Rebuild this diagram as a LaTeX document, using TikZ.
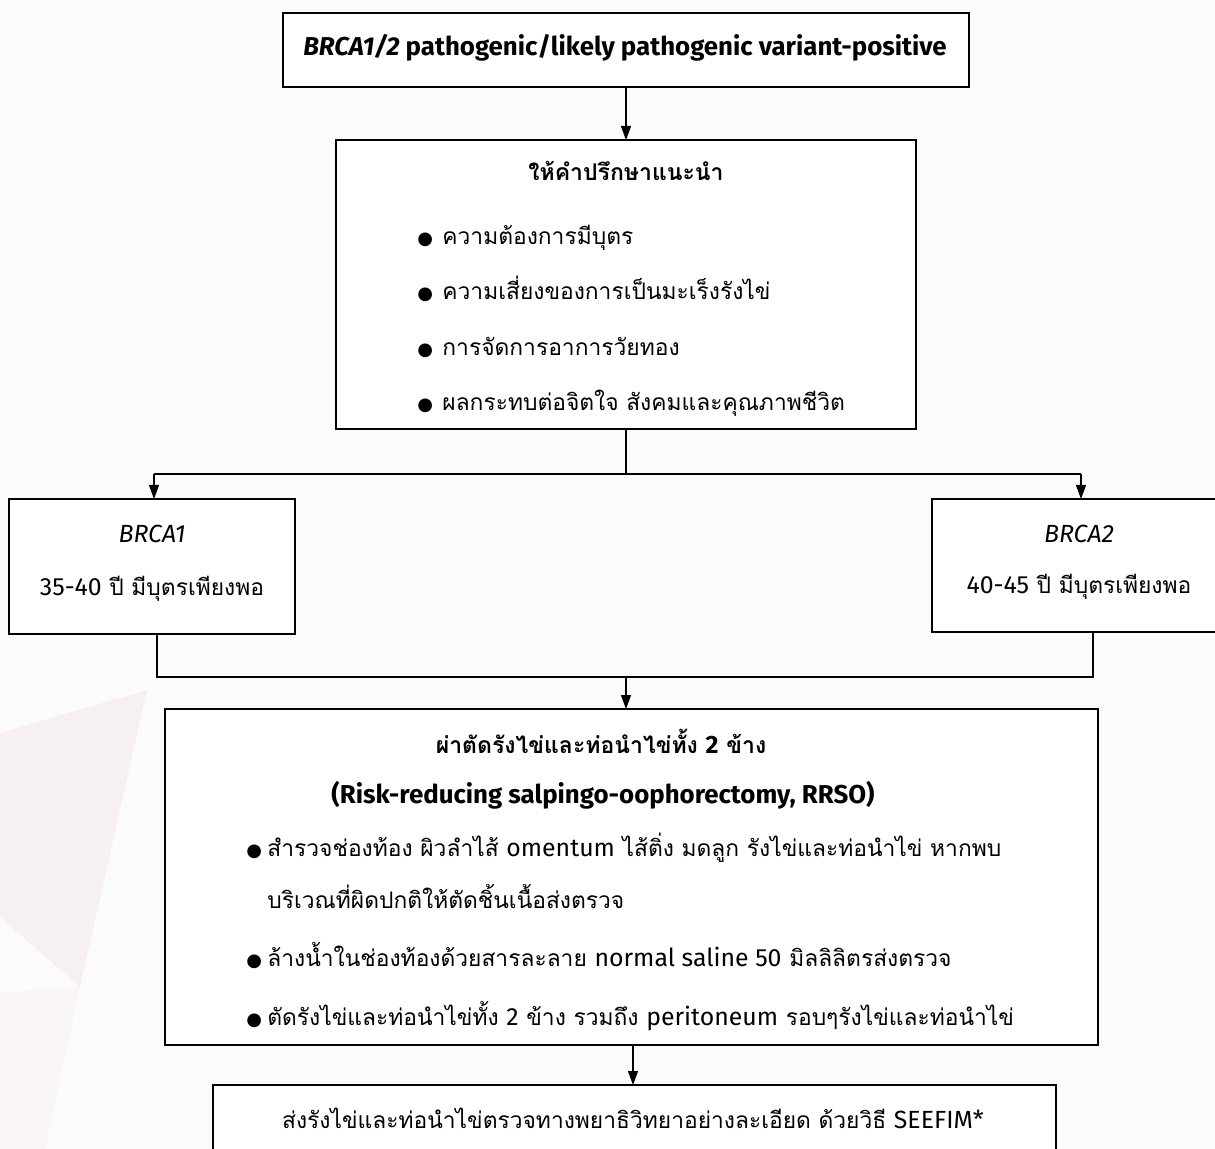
\documentclass[tikz,border=0pt]{standalone}
\usepackage{fontspec}
\setmainfont[Script=Thai]{Loma}
\newfontfamily\latinfont[Scale=1.09]{Fira Sans}
\newfontfamily\bulletfont{DejaVu Sans}
\usetikzlibrary{arrows.meta}

\definecolor{bgbase}{HTML}{FCFBFC}
\definecolor{bgtint}{HTML}{F6F0F4}
\definecolor{bgtintb}{HTML}{F9F5F8}

\tikzset{
  stepbox/.style={draw=black, line width=1pt, fill=white, inner sep=0pt, outer sep=0pt},
  txt/.style={inner sep=0pt, anchor=base, font=\fontsize{11.4}{13}\selectfont},
  ltxt/.style={txt, anchor=base west},
  head/.style={txt, font=\fontsize{11.5}{13}\selectfont\bfseries},
  lhead/.style={txt, font=\fontsize{11.85}{13}\selectfont\bfseries},
  link/.style={line width=0.6pt, draw=black},
  arr/.style={link, -{Triangle[width=5pt,length=7pt]}},
}
% Latin words and figures are set in Fira Sans, Thai in Loma
\newcommand\lt[1]{{\latinfont #1}}
\newcommand\bulA{\makebox[12.5pt][l]{\bulletfont\fontsize{9}{10}\selectfont ●}}
\newcommand\bulB{\makebox[10.5pt][l]{\bulletfont\fontsize{9}{10}\selectfont ●}}

\begin{document}
\begin{tikzpicture}[x=0.5pt,y=-0.5pt]
  % page and faint background facets
  \fill[bgbase] (0,0) rectangle (1215,1149);
  \fill[bgtint] (0,733) -- (147,690) -- (80,987) -- (0,917) -- cycle;
  \fill[bgtintb] (0,993) -- (80,987) -- (45,1149) -- (0,1149) -- cycle;
  \useasboundingbox (0,0) rectangle (1215,1149);

  % boxes
  \node[stepbox, minimum width=343pt, minimum height=37pt] (top) at (626,50) {};
  \node[stepbox, minimum width=290pt, minimum height=144.5pt] (couns) at (626,284.5) {};
  \node[stepbox, minimum width=143pt, minimum height=67.5pt] (brca1) at (152,566.5) {};
  \node[stepbox, minimum width=146pt, minimum height=66.5pt] (brca2) at (1078,565.5) {};
  \node[stepbox, minimum width=466.5pt, minimum height=168pt] (rrso) at (631.5,877) {};
  \node[stepbox, minimum width=421.5pt, minimum height=45pt] (path) at (634.5,1130) {};

  % texts
  \node[lhead] (ttop) at (625,56) {\lt{\textit{BRCA1/2} pathogenic/likely pathogenic variant-positive}};

  \node[head] (tcouns) at (626,181) {ให้คำปรึกษาแนะนำ};
  \node[ltxt] (c1) at (417,245) {\bulA ความต้องการมีบุตร};
  \node[ltxt] (c2) at (417,300) {\bulA ความเสี่ยงของการเป็นมะเร็งรังไข่};
  \node[ltxt] (c3) at (417,356) {\bulA การจัดการอาการวัยทอง};
  \node[ltxt] (c4) at (417,411) {\bulA ผลกระทบต่อจิตใจ สังคมและคุณภาพชีวิต};

  \node[txt] (b1a) at (152,543) {\lt{\textit{BRCA1}}};
  \node[txt] (b1b) at (152,596) {\lt{35-40} ปี มีบุตรเพียงพอ};
  \node[txt] (b2a) at (1079,543) {\lt{\textit{BRCA2}}};
  \node[txt] (b2b) at (1079,594) {\lt{40-45} ปี มีบุตรเพียงพอ};

  \node[head] (trrso) at (601,753) {ผ่าตัดรังไข่และท่อนำไข่ทั้ง \lt{2} ข้าง};
  \node[lhead] (trrsoen) at (603,803) {\lt{(Risk-reducing salpingo-oophorectomy, RRSO)}};
  \node[ltxt] (r1) at (246,856) {\bulB สำรวจช่องท้อง ผิวลำไส้ \lt{omentum} ไส้ติ่ง มดลูก รังไข่และท่อนำไข่ หากพบ};
  \node[ltxt] (r1b) at (267,908) {บริเวณที่ผิดปกติให้ตัดชิ้นเนื้อส่งตรวจ};
  \node[ltxt] (r2) at (246,966) {\bulB ล้างน้ำในช่องท้องด้วยสารละลาย \lt{normal saline 50} มิลลิลิตรส่งตรวจ};
  \node[ltxt] (r3) at (246,1025) {\bulB ตัดรังไข่และท่อนำไข่ทั้ง \lt{2} ข้าง รวมถึง \lt{peritoneum} รอบๆรังไข่และท่อนำไข่};

  \node[txt] (tpath) at (633,1128) {ส่งรังไข่และท่อนำไข่ตรวจทางพยาธิวิทยาอย่างละเอียด ด้วยวิธี \lt{SEEFIM*}};

  % connectors
  \coordinate (split) at (626,474);
  \coordinate (splitL) at (154,474);
  \coordinate (splitR) at (1081,474);
  \coordinate (joinL) at (157,677);
  \coordinate (joinR) at (1093,677);
  \coordinate (join) at (626,677);
  \coordinate (drop) at (633,1060);

  \draw[arr] (top.south) -- (couns.north);
  \draw[link] (couns.south) -- (split);
  \draw[link] (splitL) -- (splitR);
  \draw[arr] (splitL) -- (splitL |- brca1.north);
  \draw[arr] (splitR) -- (splitR |- brca2.north);
  \draw[link] (joinL |- brca1.south) -- (joinL) -- (joinR) -- (joinR |- brca2.south);
  \draw[arr] (join) -- (join |- rrso.north);
  \draw[arr] (drop |- rrso.south) -- (drop |- path.north);
\end{tikzpicture}
\end{document}
